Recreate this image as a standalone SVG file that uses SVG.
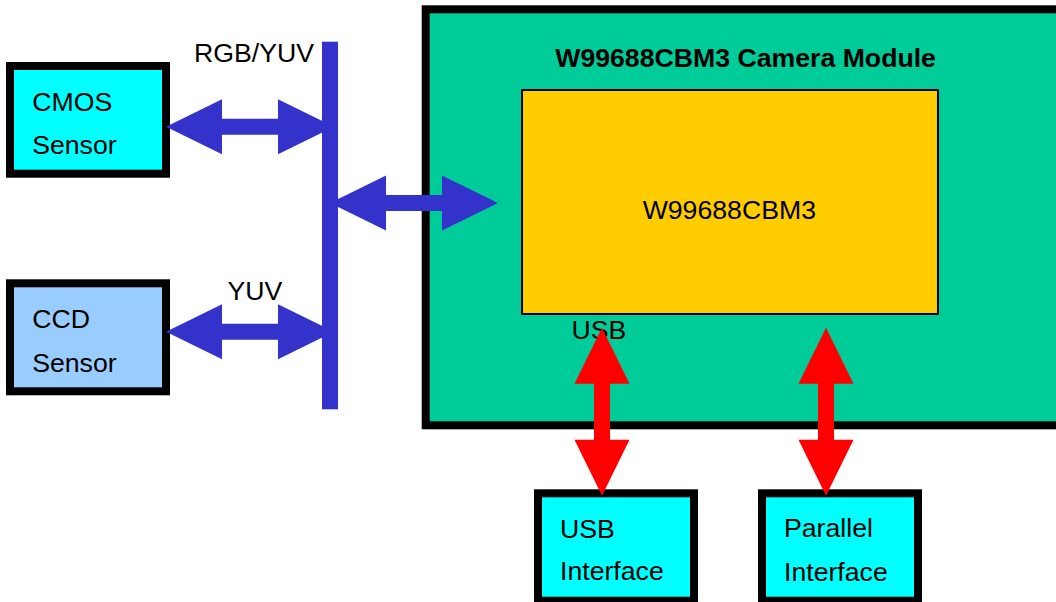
<svg xmlns="http://www.w3.org/2000/svg" xmlns:xlink="http://www.w3.org/1999/xlink" width="1056" height="602" viewBox="0 0 1056 602">
<style>
  .box { stroke: #000; stroke-width: 8; }
  .t { font-family: "Liberation Sans", Arial, sans-serif; font-size: 26.67px; fill: #000; }
  .b { font-weight: bold; }
  .blue { fill: #3333CC; }
  .red { fill: #FF0000; }
</style>
<defs>
  <path id="dblarrow" d="M-84,0 L-28,-27.5 L-28,-8 L28,-8 L28,-27.5 L84,0 L28,27.5 L28,8 L-28,8 L-28,27.5 Z"/>
</defs>
<rect width="1056" height="602" fill="#fff"/>

<g id="module">
  <rect class="box" x="425.7" y="9.3" width="700" height="416" fill="#00CC99"/>
  <text class="t b" x="745.6" y="66.7" text-anchor="middle">W99688CBM3 Camera Module</text>
</g>
<g id="chip">
  <rect x="522" y="90" width="416" height="224" fill="#FFCC00" stroke="#000" stroke-width="2"/>
  <text class="t" x="729.3" y="219" text-anchor="middle">W99688CBM3</text>
</g>
<g id="cmos">
  <rect class="box" x="10" y="66" width="156" height="107.7" fill="#00FFFF"/>
  <text class="t" x="32.2" y="111">CMOS</text>
  <text class="t" x="32.2" y="154">Sensor</text>
</g>
<g id="ccd">
  <rect class="box" x="10" y="283.3" width="156" height="108" fill="#99CCFF"/>
  <text class="t" x="32.2" y="327.7">CCD</text>
  <text class="t" x="32.2" y="372.3">Sensor</text>
</g>
<g id="usb-if">
  <rect class="box" x="538" y="493.3" width="156" height="107.4" fill="#00FFFF"/>
  <text class="t" x="560" y="537.7">USB</text>
  <text class="t" x="560" y="580">Interface</text>
</g>
<g id="par-if">
  <rect class="box" x="762" y="493.3" width="156" height="107.4" fill="#00FFFF"/>
  <text class="t" x="784" y="537.3">Parallel</text>
  <text class="t" x="784" y="581">Interface</text>
</g>

<g id="labels">
  <text class="t" x="194" y="62">RGB/YUV</text>
  <text class="t" x="227.5" y="300">YUV</text>
  <text class="t" x="571.5" y="339.3">USB</text>
</g>

<g id="connectors">
  <use xlink:href="#dblarrow" href="#dblarrow" class="blue" transform="translate(250,126.7)"/>
  <use xlink:href="#dblarrow" href="#dblarrow" class="blue" transform="translate(250,331.7)"/>
  <use xlink:href="#dblarrow" href="#dblarrow" class="blue" transform="translate(414,203)"/>
  <use xlink:href="#dblarrow" href="#dblarrow" class="red" transform="translate(602,411.7) rotate(90)"/>
  <use xlink:href="#dblarrow" href="#dblarrow" class="red" transform="translate(826,411.7) rotate(90)"/>
  <rect id="bus" x="322" y="41.7" width="16" height="367.6" fill="#3333CC"/>
</g>
</svg>
